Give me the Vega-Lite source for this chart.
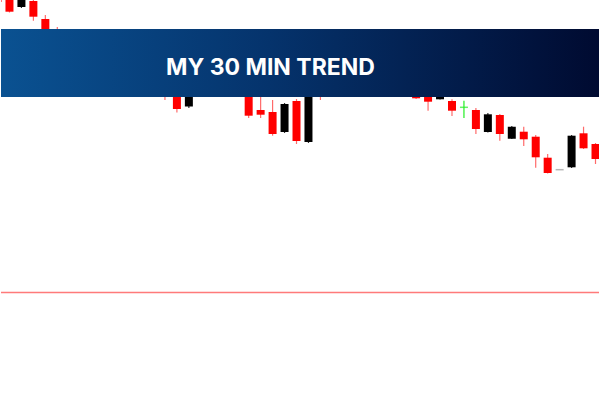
{
  "$schema": "https://vega.github.io/schema/vega-lite/v6.json",
  "autosize": {"type": "fit", "contains": "padding"},
  "width": 600,
  "height": 400,
  "padding": 0,
  "background": "#ffffff",
  "config": {"view": {"stroke": null}, "scale": {"continuousPadding": 0}},
  "datasets": {
    "candles": [
      {"i": -1, "o": 1.2012, "h": 1.2015, "l": 1.1996, "c": 1.1998, "dir": "bear"},
      {"i": 0, "o": 1.2006, "h": 1.2008, "l": 1.19875, "c": 1.19883, "dir": "bear"},
      {"i": 1, "o": 1.1993, "h": 1.2005, "l": 1.1992, "c": 1.2003, "dir": "bull"},
      {"i": 2, "o": 1.1999, "h": 1.2, "l": 1.19793, "c": 1.19833, "dir": "bear"},
      {"i": 3, "o": 1.1981, "h": 1.1985, "l": 1.1955, "c": 1.196, "dir": "bear"},
      {"i": 4, "o": 1.1962, "h": 1.1973, "l": 1.1942, "c": 1.1948, "dir": "bear"},
      {"i": 5, "o": 1.1938, "h": 1.1964, "l": 1.1934, "c": 1.1958, "dir": "bull"},
      {"i": 6, "o": 1.196, "h": 1.1965, "l": 1.1936, "c": 1.194, "dir": "bear"},
      {"i": 7, "o": 1.1942, "h": 1.1946, "l": 1.1922, "c": 1.1928, "dir": "bear"},
      {"i": 8, "o": 1.193, "h": 1.1934, "l": 1.191, "c": 1.1914, "dir": "bear"},
      {"i": 9, "o": 1.1916, "h": 1.1942, "l": 1.1912, "c": 1.1938, "dir": "bull"},
      {"i": 10, "o": 1.194, "h": 1.1945, "l": 1.1918, "c": 1.1922, "dir": "bear"},
      {"i": 11, "o": 1.1924, "h": 1.1928, "l": 1.1906, "c": 1.191, "dir": "bear"},
      {"i": 12, "o": 1.1912, "h": 1.1936, "l": 1.1908, "c": 1.193, "dir": "bull"},
      {"i": 13, "o": 1.1932, "h": 1.1938, "l": 1.19, "c": 1.1914, "dir": "bear"},
      {"i": 14, "o": 1.1916, "h": 1.192, "l": 1.18875, "c": 1.1891, "dir": "bear"},
      {"i": 15, "o": 1.18935, "h": 1.1922, "l": 1.1892, "c": 1.1918, "dir": "bull"},
      {"i": 16, "o": 1.1916, "h": 1.1942, "l": 1.1912, "c": 1.1936, "dir": "bull"},
      {"i": 17, "o": 1.1934, "h": 1.1955, "l": 1.193, "c": 1.195, "dir": "bull"},
      {"i": 18, "o": 1.1952, "h": 1.1958, "l": 1.1932, "c": 1.1938, "dir": "bear"},
      {"i": 19, "o": 1.194, "h": 1.1945, "l": 1.192, "c": 1.1924, "dir": "bear"},
      {"i": 20, "o": 1.1924, "h": 1.1928, "l": 1.1882, "c": 1.18843, "dir": "bear"},
      {"i": 21, "o": 1.189, "h": 1.1908, "l": 1.1882, "c": 1.18853, "dir": "bear"},
      {"i": 22, "o": 1.1888, "h": 1.19, "l": 1.18643, "c": 1.1866, "dir": "bear"},
      {"i": 23, "o": 1.1868, "h": 1.1897, "l": 1.1867, "c": 1.1896, "dir": "bull"},
      {"i": 24, "o": 1.1899, "h": 1.1901, "l": 1.1856, "c": 1.1859, "dir": "bear"},
      {"i": 25, "o": 1.1858, "h": 1.1945, "l": 1.1857, "c": 1.194, "dir": "bull"},
      {"i": 26, "o": 1.1942, "h": 1.1948, "l": 1.19, "c": 1.192, "dir": "bear"},
      {"i": 27, "o": 1.193, "h": 1.1956, "l": 1.1926, "c": 1.195, "dir": "bull"},
      {"i": 28, "o": 1.1952, "h": 1.1958, "l": 1.1932, "c": 1.1936, "dir": "bear"},
      {"i": 29, "o": 1.1938, "h": 1.1942, "l": 1.192, "c": 1.1924, "dir": "bear"},
      {"i": 30, "o": 1.1926, "h": 1.1948, "l": 1.1922, "c": 1.1944, "dir": "bull"},
      {"i": 31, "o": 1.1946, "h": 1.195, "l": 1.1926, "c": 1.193, "dir": "bear"},
      {"i": 32, "o": 1.1932, "h": 1.1936, "l": 1.1914, "c": 1.1918, "dir": "bear"},
      {"i": 33, "o": 1.192, "h": 1.194, "l": 1.1916, "c": 1.1934, "dir": "bull"},
      {"i": 34, "o": 1.1922, "h": 1.1926, "l": 1.1901, "c": 1.19017, "dir": "bear"},
      {"i": 35, "o": 1.1912, "h": 1.1916, "l": 1.18893, "c": 1.18983, "dir": "bear"},
      {"i": 36, "o": 1.19007, "h": 1.1918, "l": 1.19005, "c": 1.1914, "dir": "bull"},
      {"i": 37, "o": 1.1899, "h": 1.19007, "l": 1.1884, "c": 1.18893, "dir": "bear"},
      {"i": 38, "o": 1.18927, "h": 1.18993, "l": 1.1882, "c": 1.18927, "dir": "cross"},
      {"i": 39, "o": 1.189, "h": 1.1892, "l": 1.1866, "c": 1.1871, "dir": "bear"},
      {"i": 40, "o": 1.1868, "h": 1.1887, "l": 1.18675, "c": 1.18857, "dir": "bull"},
      {"i": 41, "o": 1.1885, "h": 1.1886, "l": 1.18593, "c": 1.1866, "dir": "bear"},
      {"i": 42, "o": 1.18613, "h": 1.1874, "l": 1.1861, "c": 1.18733, "dir": "bull"},
      {"i": 43, "o": 1.18683, "h": 1.18733, "l": 1.1854, "c": 1.18607, "dir": "bear"},
      {"i": 44, "o": 1.18633, "h": 1.1865, "l": 1.18323, "c": 1.18427, "dir": "bear"},
      {"i": 45, "o": 1.18423, "h": 1.1846, "l": 1.18265, "c": 1.1827, "dir": "bear"},
      {"i": 46, "o": 1.18303, "h": 1.18303, "l": 1.18303, "c": 1.18303, "dir": "flat"},
      {"i": 47, "o": 1.18327, "h": 1.1865, "l": 1.1832, "c": 1.18643, "dir": "bull"},
      {"i": 48, "o": 1.18667, "h": 1.18733, "l": 1.1851, "c": 1.18517, "dir": "bear"},
      {"i": 49, "o": 1.1856, "h": 1.1857, "l": 1.1836, "c": 1.1841, "dir": "bear"}
    ],
    "levels": [{"price": 1.17075}],
    "banner": [{"x0": -1.0, "x1": 49.6, "top": 1.1971, "bottom": 1.1903, "xm": 21.82, "ym": 1.19317, "label": "MY 30 MIN TREND"}]
  },
  "layer": [
    {
      "data": {"name": "levels"},
      "mark": {"type": "rule", "color": "#ff7a7a", "strokeWidth": 1.4},
      "encoding": {
        "y": {"field": "price", "type": "quantitative", "scale": {"domain": [1.16, 1.2], "nice": false, "zero": false, "padding": 0}, "axis": null}
      }
    },
    {
      "data": {"name": "candles"},
      "layer": [
        {
          "mark": {"type": "rule", "strokeWidth": 1.2, "clip": true},
          "encoding": {
            "x": {"field": "i", "type": "quantitative", "scale": {"domain": [-0.708, 49.292], "nice": false, "zero": false, "padding": 0}, "axis": null},
            "y": {"field": "h", "type": "quantitative", "scale": {"domain": [1.16, 1.2], "nice": false, "zero": false, "padding": 0}, "axis": null},
            "y2": {"field": "l"},
            "stroke": {"field": "dir", "type": "nominal", "scale": {"domain": ["bear", "bull", "cross", "flat"], "range": ["#ff6a6a", "#333333", "#22ee22", "#999999"]}, "legend": null}
          }
        },
        {
          "transform": [{"filter": "datum.dir === 'bear' || datum.dir === 'bull'"}],
          "mark": {"type": "bar", "width": 8, "clip": true},
          "encoding": {
            "x": {"field": "i", "type": "quantitative"},
            "y": {"field": "o", "type": "quantitative"},
            "y2": {"field": "c"},
            "fill": {"field": "dir", "type": "nominal", "scale": {"domain": ["bear", "bull", "cross", "flat"], "range": ["#ff0000", "#000000", "#22ee22", "#999999"]}, "legend": null}
          }
        },
        {
          "transform": [{"filter": "datum.dir === 'cross' || datum.dir === 'flat'"}],
          "mark": {"type": "tick", "orient": "horizontal", "size": 8, "thickness": 1.5, "clip": true},
          "encoding": {
            "x": {"field": "i", "type": "quantitative"},
            "y": {"field": "o", "type": "quantitative"},
            "color": {"field": "dir", "type": "nominal", "scale": {"domain": ["bear", "bull", "cross", "flat"], "range": ["#ff0000", "#000000", "#22ee22", "#999999"]}, "legend": null}
          }
        }
      ]
    },
    {
      "data": {"name": "banner"},
      "layer": [
        {
          "mark": {
            "type": "rect",
            "clip": true,
            "fill": {"gradient": "linear", "x1": 0, "y1": 0, "x2": 1, "y2": 0, "stops": [
              {"offset": 0, "color": "#0a5292"},
              {"offset": 0.45, "color": "#05336c"},
              {"offset": 1, "color": "#000a30"}
            ]}
          },
          "encoding": {
            "x": {"field": "x0", "type": "quantitative"},
            "x2": {"field": "x1"},
            "y": {"field": "top", "type": "quantitative"},
            "y2": {"field": "bottom"}
          }
        },
        {
          "mark": {"type": "text", "color": "#ffffff", "font": "Inter", "fontWeight": 700, "fontSize": 23, "align": "center", "baseline": "middle"},
          "encoding": {
            "x": {"field": "xm", "type": "quantitative"},
            "y": {"field": "ym", "type": "quantitative"},
            "text": {"field": "label"}
          }
        }
      ]
    }
  ]
}
